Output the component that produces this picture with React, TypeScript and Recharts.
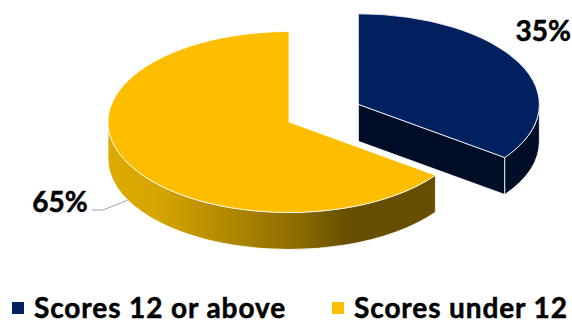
import { Legend, Pie, PieChart } from "recharts";

const CATEGORIES = ["Scores 12 or above", "Scores under 12"];
const SHARES = [35, 65];
const TOP_COLORS = ["#002060", "#FDBE00"];

const FONT = "Lato, sans-serif";
const TILT = 0.5; // the disc is drawn as an ellipse, ry = r * TILT
const DEPTH = 37;
const EXPLODE = [0.43, 0];

const RAD = Math.PI / 180;

const tableData = CATEGORIES.map((name, i) => ({
  name,
  value: SHARES[i],
  fill: TOP_COLORS[i],
}));

function rimPoint(cx: number, cy: number, r: number, angle: number) {
  return { x: cx + r * Math.cos(angle * RAD), y: cy - r * TILT * Math.sin(angle * RAD) };
}

// pulled-out slices move along their mid angle
function sliceCentre(props: any) {
  const mid = (props.startAngle + props.endAngle) / 2;
  const k = EXPLODE[props.index ?? 0] ?? 0;
  return {
    cx: props.cx + k * props.outerRadius * Math.cos(mid * RAD),
    cy: props.cy - k * props.outerRadius * TILT * Math.sin(mid * RAD),
  };
}

function WallGradients() {
  return (
    <defs>
      <linearGradient id="wall-0">
        <stop offset="0" stopColor="#000D26" />
      </linearGradient>
      <linearGradient id="wall-1">
        <stop offset="0" stopColor="#DDAA00" />
        <stop offset="0.15" stopColor="#D6A500" />
        <stop offset="0.58" stopColor="#8C6C00" />
        <stop offset="0.73" stopColor="#664F00" />
        <stop offset="1" stopColor="#664F00" />
      </linearGradient>
    </defs>
  );
}

function Slice3D(props: any) {
  const { outerRadius: r, startAngle, endAngle, fill, index } = props;
  const { cx, cy } = sliceCentre(props);
  const ry = r * TILT;
  const start = rimPoint(cx, cy, r, startAngle);
  const end = rimPoint(cx, cy, r, endAngle);
  const large = Math.abs(startAngle - endAngle) > 180 ? 1 : 0;
  const edge = { stroke: "#fff", strokeOpacity: 0.8, strokeWidth: 1 };
  const wallFill = `url(#wall-${index})`;

  // outer wall shows only on the front half of the rim
  const hi = Math.min(startAngle, 0);
  const lo = Math.max(endAngle, -180);
  const a = rimPoint(cx, cy, r, hi);
  const b = rimPoint(cx, cy, r, lo);
  const wall =
    `M${a.x},${a.y} A${r},${ry} 0 0 1 ${b.x},${b.y} ` +
    `L${b.x},${b.y + DEPTH} A${r},${ry} 0 0 0 ${a.x},${a.y + DEPTH} Z`;

  // the flat cut face is visible when it turns towards the viewer
  const showCut = Math.cos(endAngle * RAD) > 0.01;
  const cut =
    `M${cx},${cy} L${end.x},${end.y} L${end.x},${end.y + DEPTH} L${cx},${cy + DEPTH} Z`;

  return (
    <g>
      <WallGradients />
      {showCut && <path d={cut} fill={wallFill} {...edge} />}
      {hi > lo && <path d={wall} fill={wallFill} {...edge} />}
      <path
        d={`M${cx},${cy} L${start.x},${start.y} A${r},${ry} 0 ${large} 1 ${end.x},${end.y} Z`}
        fill={fill}
        {...edge}
      />
    </g>
  );
}

function ShareLabel(props: any) {
  const { index, value, outerRadius: r, startAngle, endAngle } = props;
  const { cx, cy } = sliceCentre(props);
  const mid = (startAngle + endAngle) / 2;
  const rim = rimPoint(cx, cy, r, mid);
  const textStyle = {
    fontFamily: FONT,
    fontWeight: 700,
    fontSize: 28,
    fill: "#000",
    stroke: "#000",
    strokeWidth: 0.5,
  };

  if (index === 0) {
    return (
      <text x={rim.x - 4} y={rim.y - 22} style={textStyle}>
        {value}%
      </text>
    );
  }
  const y = rim.y + DEPTH;
  return (
    <g>
      <polyline
        points={`${rim.x},${y} ${rim.x - 25},${y + 10} ${rim.x - 36},${y + 10}`}
        fill="none"
        stroke="#A6A6A6"
        strokeWidth={1}
      />
      <text x={rim.x - 40} y={y + 12} textAnchor="end" style={textStyle}>
        {value}%
      </text>
    </g>
  );
}

function ScoreLegend({ payload }: any) {
  const gaps = [0, 46];
  return (
    <div
      style={{
        display: "flex",
        alignItems: "center",
        fontFamily: FONT,
        fontWeight: 700,
        fontSize: 28,
        letterSpacing: 0.9,
        color: "#000",
        WebkitTextStroke: "0.5px #000",
      }}
    >
      {(payload ?? []).map((item: any, i: number) => (
        <div key={item.value} style={{ display: "flex", alignItems: "center", marginLeft: gaps[i] }}>
          <span
            style={{
              width: 12,
              height: 12,
              marginRight: 10,
              marginTop: 2,
              background: item.color ?? TOP_COLORS[i],
            }}
          />
          <span style={{ whiteSpace: "nowrap", lineHeight: "28px" }}>{item.value}</span>
        </div>
      ))}
    </div>
  );
}

export default function App() {
  return (
    <div style={{ position: "absolute", left: 0, top: 0 }}>
      <PieChart width={572} height={320} margin={{ top: 0, right: 0, bottom: 0, left: 0 }}>
        <Pie
          data={tableData}
          dataKey="value"
          nameKey="name"
          cx={289}
          cy={122}
          innerRadius={0}
          outerRadius={181}
          startAngle={90}
          endAngle={-270}
          stroke="none"
          shape={Slice3D}
          label={ShareLabel}
          labelLine={false}
          isAnimationActive={false}
        />
        <Legend
          content={ScoreLegend}
          layout="horizontal"
          verticalAlign="bottom"
          align="left"
          wrapperStyle={{ left: 12, top: 293, bottom: "auto", width: 560 }}
        />
      </PieChart>
    </div>
  );
}
